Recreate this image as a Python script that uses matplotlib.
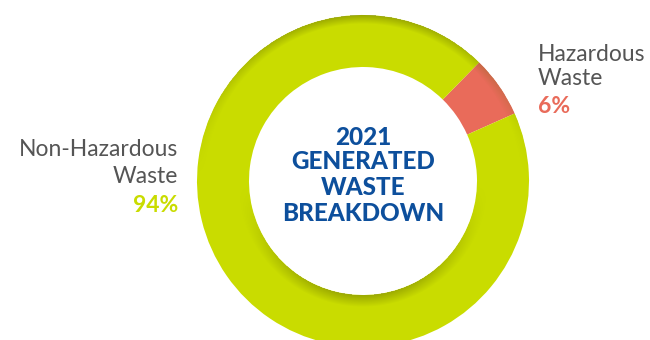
import numpy as np
import matplotlib
matplotlib.use("Agg")
import matplotlib.pyplot as plt

# Waste breakdown, percent of generated waste in 2021
categories = ["Hazardous\nWaste", "Non-Hazardous\nWaste"]
shares = [6, 94]
colors = ["#e96b5a", "#c9dc00"]
title_lines = ["2021", "GENERATED", "WASTE", "BREAKDOWN"]

W, H = 650, 340
fig = plt.figure(figsize=(W / 100, H / 100), dpi=100)
ax = fig.add_axes([0, 0, 1, 1])

cx, cy = 363, H - 181
r_out, r_in = 166, 114

wedges, _ = ax.pie(shares, colors=colors, startangle=24, counterclock=True,
                   center=(cx, cy), radius=r_out, frame=True,
                   wedgeprops=dict(width=r_out - r_in, linewidth=0))

# soft shading: darker rim on the upper outer edge, shadow under the inner hole
yy, xx = np.mgrid[0:H, 0:W]
dx = xx + 0.5 - cx
dy = (H - yy - 0.5) - cy
rr = np.hypot(dx, dy)
sin_t = dy / np.maximum(rr, 1e-6)
outer = np.clip(1 - (r_out - rr) / 9.0, 0, 1) * np.clip(sin_t, 0, 1) ** 1.5
inner = np.clip(1 - (rr - r_in) / 12.0, 0, 1) * np.clip(-sin_t, 0, 1) ** 1.5
alpha = np.clip(0.42 * outer + 0.42 * inner, 0, 1)
alpha[(rr > r_out) | (rr < r_in)] = 0
shade = np.zeros((H, W, 4))
shade[..., 0] = 0.35
shade[..., 1] = 0.38
shade[..., 2] = 0.0
shade[..., 3] = alpha
ax.imshow(shade, extent=(0, W, 0, H), origin="upper", zorder=3,
          interpolation="bilinear", aspect="auto")
ax.set_xlim(0, W)
ax.set_ylim(0, H)
ax.axis("off")

label_font = ["Lato", "DejaVu Sans"]
gray = "#555555"
fs = 16.5

# left label
ax.text(178, H - 156, "Non-Hazardous", ha="right", va="baseline",
        fontsize=fs, color=gray, family=label_font, zorder=5)
ax.text(178, H - 183, "Waste", ha="right", va="baseline",
        fontsize=fs, color=gray, family=label_font, zorder=5)
ax.text(178, H - 212, f"{shares[1]}%", ha="right", va="baseline",
        fontsize=fs, color=colors[1], family=label_font,
        fontweight="bold", zorder=5)

# right label
ax.text(538, H - 61, "Hazardous", ha="left", va="baseline",
        fontsize=fs, color=gray, family=label_font, zorder=5)
ax.text(538, H - 85, "Waste", ha="left", va="baseline",
        fontsize=fs, color=gray, family=label_font, zorder=5)
ax.text(538, H - 113, f"{shares[0]}%", ha="left", va="baseline",
        fontsize=fs, color=colors[0], family=label_font,
        fontweight="bold", zorder=5)

# centre title
baselines = [145, 169, 195, 221]
for line, b in zip(title_lines, baselines):
    ax.text(cx, H - b, line, ha="center", va="baseline", fontsize=17.5,
            color="#0d4f9c", family=["Lato", "DejaVu Sans"],
            fontweight="black", zorder=5)

fig.savefig("out.png", dpi=100)
